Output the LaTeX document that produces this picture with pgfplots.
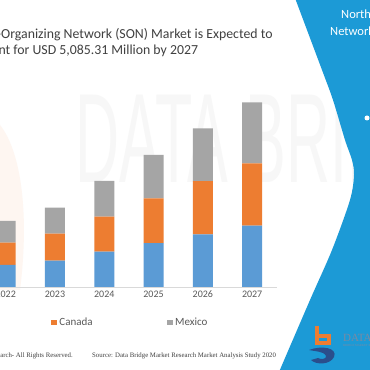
\documentclass[border=0pt]{standalone}
\usepackage{pgfplots}
\pgfplotsset{compat=1.18}
\usepackage{fontspec}
\setmainfont{Carlito}
\newfontfamily\seriffont{Liberation Serif}
\newfontfamily\wmfont{Liberation Sans}
\definecolor{usblue}{HTML}{5B9BD5}
\definecolor{caorange}{HTML}{ED7D31}
\definecolor{mxgrey}{HTML}{A5A5A5}
\definecolor{panelblue}{HTML}{1C9AD6}
\definecolor{axisgray}{HTML}{D9D9D9}
\definecolor{ticktext}{HTML}{595959}
\definecolor{titletext}{HTML}{404040}
\definecolor{wm}{HTML}{F7F7F7}
\definecolor{wmorange}{HTML}{FEF6F1}
\definecolor{logoblue}{HTML}{2A4E8C}
\definecolor{logotext}{HTML}{7A8AA3}
\begin{document}
\begin{tikzpicture}[x=1pt,y=1pt]
\useasboundingbox (0,0) rectangle (370,370);
\clip (0,0) rectangle (370,370);
\fill[white] (0,0) rectangle (370,370);
% faint watermark
\fill[wmorange] (0,245) .. controls (20,220) and (30,160) .. (20,80) -- (0,80) -- cycle;
\node[anchor=base west, inner sep=0, xscale=0.48, text=wm, font=\wmfont\fontsize{127}{127}\selectfont] at (75,187) {DATA BRIDGE};
% chart
\begin{axis}[
  at={(-23.9pt,83pt)}, anchor=south west,
  scale only axis, width=300.7pt, height=200pt,
  xmin=-0.6, xmax=5.5, ymin=0, ymax=5506,
  axis x line*=bottom, axis y line=none,
  x axis line style={draw=axisgray, line width=0.8pt},
  xtick={0,1,2,3,4,5},
  xticklabels={2022,2023,2024,2025,2026,2027},
  major tick length=0pt,
  xticklabel style={font=\fontsize{10}{12}\selectfont, text=ticktext},
  ybar stacked, bar width=20pt,
  legend image code/.code={\draw[#1, draw=none] (0pt,-2.75pt) rectangle (5.5pt,2.75pt);},
  legend style={draw=none, fill=none, legend columns=-1, inner sep=0pt,
    nodes={inner sep=0pt},
    at={(axis description cs:0.7702,-0.1785)}, anchor=east,
    font=\fontsize{11}{13}\selectfont, text=ticktext,
    /tikz/every odd column/.append style={column sep=2.6pt},
    /tikz/column 2/.style={column sep=97.6pt},
    /tikz/column 4/.style={column sep=74.4pt}},
]
\addplot[fill=usblue, draw=none] coordinates {(0,606) (1,724) (2,972) (3,1211) (4,1451) (5,1688)};
\addplot[fill=caorange, draw=none] coordinates {(0,614) (1,743) (2,964) (3,1231) (4,1467) (5,1715)};
\addplot[fill=mxgrey, draw=none] coordinates {(0,597) (1,716) (2,983) (3,1192) (4,1451) (5,1682)};
\legend{US, Canada, Mexico}
\end{axis}
% title
\node[align=center, text=titletext, font=\fontsize{13.8}{16.5}\selectfont] at (82,327.5)
  {North America Self-Organizing Network (SON) Market is Expected to\\account for USD 5,085.31 Million by 2027};
% footer
\node[anchor=east, text=titletext, font=\seriffont\fontsize{6.8}{8}\selectfont, inner sep=0] at (73,14)
  {\textcopyright{} 2020 Data Bridge Market Research- All Rights Reserved.};
\node[anchor=west, text=titletext, font=\seriffont\fontsize{6.8}{8}\selectfont, inner sep=0] at (92,14)
  {Source: Data Bridge Market Research Market Analysis Study 2020};
% blue panel
\fill[panelblue] plot[smooth] coordinates {(295,372) (322,300) (333,270) (345,230) (352,210) (354,195) (350,170) (332,120) (310,70) (279,-2)} -- (372,-2) -- (372,372) -- cycle;
\fill[white] (367,252) circle (2.5);
\node[anchor=base west, text=white, font=\fontsize{12.5}{14}\selectfont, inner sep=0] at (341,351) {North America};
\node[anchor=base west, text=white, font=\fontsize{12.5}{14}\selectfont, inner sep=0] at (330,334) {Network Market};
% logo
\draw[caorange, line width=3.5pt] (317,44) -- (317,27) -- (329,27) -- (329,34) -- (317,34);
\fill[logoblue] (309,20) .. controls (322,25) and (338,22) .. (334,13) .. controls (330,5) and (316,5) .. (311,10) -- (318,12) .. controls (324,9) and (330,13) .. (323,17) .. controls (318,19) and (313,19) .. cycle;
\node[anchor=west, text=logotext, font=\seriffont\fontsize{11}{12}\selectfont, inner sep=0] at (343,32) {DATA};
\node[anchor=west, text=logotext, font=\seriffont\fontsize{3}{4}\selectfont, inner sep=0] at (343,24) {BRIDGE MARKET RESEARCH};
\end{tikzpicture}
\end{document}
